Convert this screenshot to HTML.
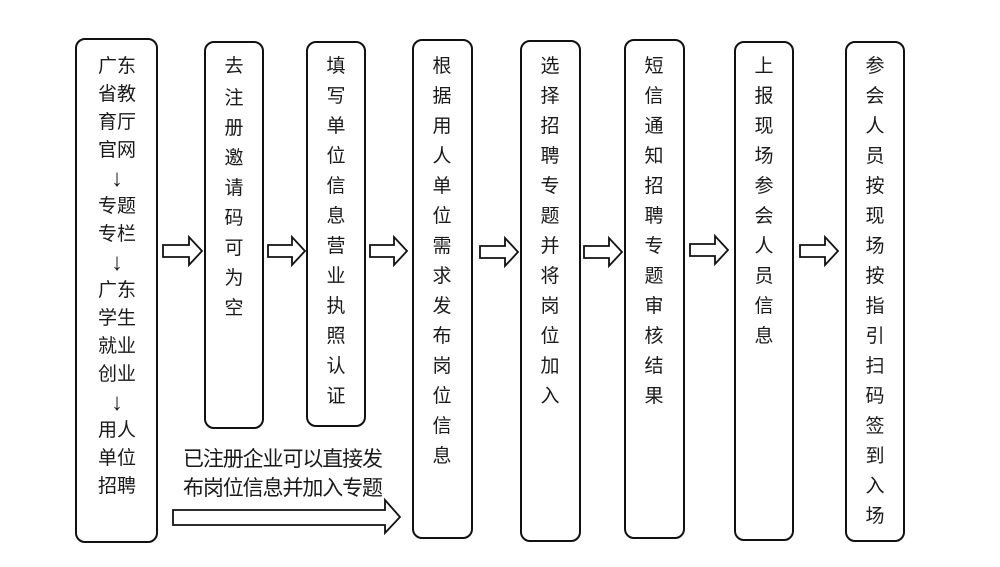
<!DOCTYPE html>
<html><head><meta charset="utf-8"><style>
html,body{margin:0;padding:0;background:#fff;}
svg{display:block;}
text{font-family:"Liberation Sans","Noto Sans CJK SC",sans-serif;font-size:19px;fill:#1a1a1a;text-anchor:middle;}
.ar{font-size:24px;}
</style></head><body>
<svg width="1000" height="567" viewBox="0 0 1000 567" xmlns="http://www.w3.org/2000/svg">
<g fill="none" stroke="#111" stroke-width="2">
<rect x="76" y="39" width="81" height="503" rx="9"/>
<rect x="205" y="42" width="58" height="386" rx="9"/>
<rect x="307" y="42" width="58" height="384" rx="9"/>
<rect x="413" y="40" width="59" height="498" rx="9"/>
<rect x="521" y="41" width="59" height="500" rx="9"/>
<rect x="625" y="40" width="59" height="498" rx="9"/>
<rect x="735" y="42" width="58" height="498" rx="9"/>
<rect x="846" y="42" width="58" height="499" rx="9"/>
<g stroke-width="1.8" stroke-linejoin="miter">
<path d="M163,245 H189 V237 L202,251 L189,265 V257 H163 Z"/>
<path d="M268,245 H292 V237 L305,251 L292,265 V257 H268 Z"/>
<path d="M370,245 H394 V237 L407,251 L394,265 V257 H370 Z"/>
<path d="M480,246 H505 V238 L518,252 L505,266 V258 H480 Z"/>
<path d="M584,246 H609 V238 L622,252 L609,266 V258 H584 Z"/>
<path d="M690,244 H715 V236 L728,250 L715,264 V256 H690 Z"/>
<path d="M800,245 H825 V237 L838,251 L825,265 V257 H800 Z"/>
<path d="M173,510 H385 V500 L400,517 L385,533 V525 H173 Z"/>
</g>
</g>
<g>
<text x="117" y="72">广东</text>
<text x="117" y="100">省教</text>
<text x="117" y="128">育厅</text>
<text x="117" y="156">官网</text>
<text x="117" y="186" class="ar">↓</text>
<text x="117" y="212">专题</text>
<text x="117" y="240">专栏</text>
<text x="117" y="270" class="ar">↓</text>
<text x="117" y="296">广东</text>
<text x="117" y="324">学生</text>
<text x="117" y="352">就业</text>
<text x="117" y="380">创业</text>
<text x="117" y="410" class="ar">↓</text>
<text x="117" y="436">用人</text>
<text x="117" y="464">单位</text>
<text x="117" y="492">招聘</text>
</g>
<g>
<text x="234" y="72">去</text><text x="234" y="104">注</text><text x="234" y="134">册</text><text x="234" y="164">邀</text><text x="234" y="194">请</text><text x="234" y="224">码</text><text x="234" y="254">可</text><text x="234" y="284">为</text><text x="234" y="314">空</text>
</g>
<g>
<text x="336" y="72">填</text><text x="336" y="102">写</text><text x="336" y="132">单</text><text x="336" y="162">位</text><text x="336" y="192">信</text><text x="336" y="222">息</text><text x="336" y="252">营</text><text x="336" y="282">业</text><text x="336" y="312">执</text><text x="336" y="342">照</text><text x="336" y="372">认</text><text x="336" y="402">证</text>
</g>
<g>
<text x="442" y="72">根</text><text x="442" y="102">据</text><text x="442" y="132">用</text><text x="442" y="162">人</text><text x="442" y="192">单</text><text x="442" y="222">位</text><text x="442" y="252">需</text><text x="442" y="282">求</text><text x="442" y="312">发</text><text x="442" y="342">布</text><text x="442" y="372">岗</text><text x="442" y="402">位</text><text x="442" y="432">信</text><text x="442" y="462">息</text>
</g>
<g>
<text x="550" y="72">选</text><text x="550" y="102">择</text><text x="550" y="132">招</text><text x="550" y="162">聘</text><text x="550" y="192">专</text><text x="550" y="222">题</text><text x="550" y="252">并</text><text x="550" y="282">将</text><text x="550" y="312">岗</text><text x="550" y="342">位</text><text x="550" y="372">加</text><text x="550" y="402">入</text>
</g>
<g>
<text x="654" y="72">短</text><text x="654" y="102">信</text><text x="654" y="132">通</text><text x="654" y="162">知</text><text x="654" y="192">招</text><text x="654" y="222">聘</text><text x="654" y="252">专</text><text x="654" y="282">题</text><text x="654" y="312">审</text><text x="654" y="342">核</text><text x="654" y="372">结</text><text x="654" y="402">果</text>
</g>
<g>
<text x="764" y="72">上</text><text x="764" y="102">报</text><text x="764" y="132">现</text><text x="764" y="162">场</text><text x="764" y="192">参</text><text x="764" y="222">会</text><text x="764" y="252">人</text><text x="764" y="282">员</text><text x="764" y="312">信</text><text x="764" y="342">息</text>
</g>
<g>
<text x="875" y="72">参</text><text x="875" y="102">会</text><text x="875" y="132">人</text><text x="875" y="162">员</text><text x="875" y="192">按</text><text x="875" y="222">现</text><text x="875" y="252">场</text><text x="875" y="282">按</text><text x="875" y="312">指</text><text x="875" y="342">引</text><text x="875" y="372">扫</text><text x="875" y="402">码</text><text x="875" y="432">签</text><text x="875" y="462">到</text><text x="875" y="492">入</text><text x="875" y="522">场</text>
</g>
<text x="283" y="466" style="font-size:21px" textLength="200" lengthAdjust="spacing">已注册企业可以直接发</text>
<text x="283" y="495" style="font-size:21px" textLength="200" lengthAdjust="spacing">布岗位信息并加入专题</text>
</svg>
</body></html>
